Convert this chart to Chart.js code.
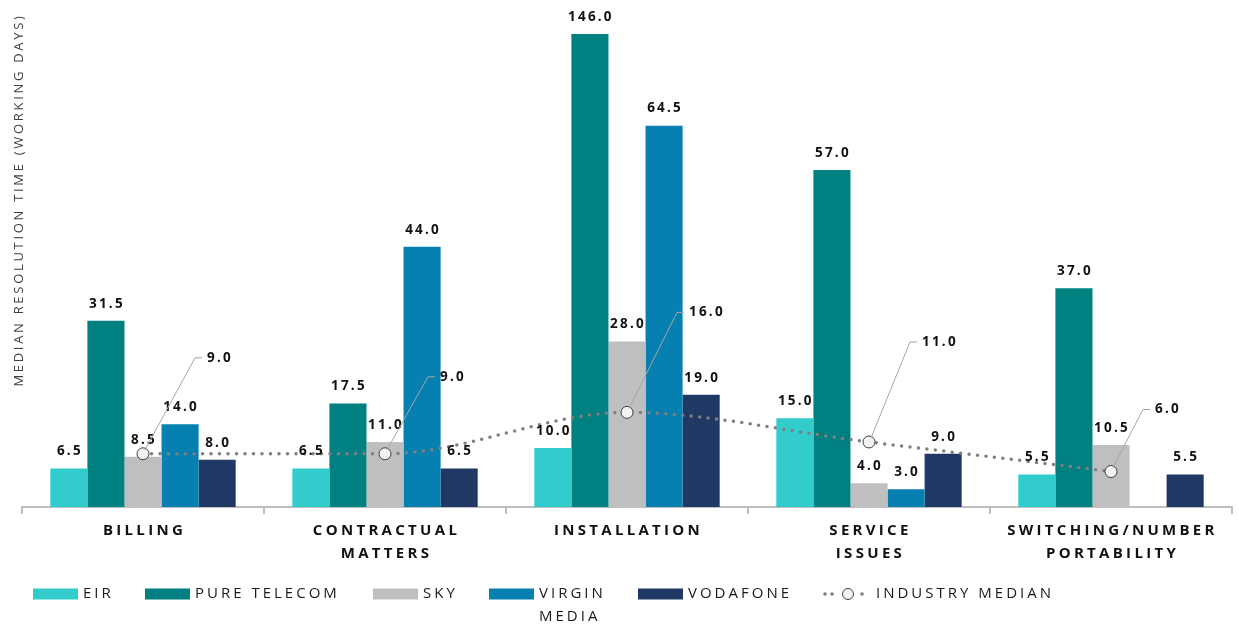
<!DOCTYPE html>
<html>
<head>
<meta charset="utf-8">
<script src="https://cdn.jsdelivr.net/npm/chart.js@4.4.1/dist/chart.umd.min.js"></script>
<style>
html, body { margin: 0; padding: 0; background: #fff; }
#wrap { width: 1239px; height: 628px; position: relative; }
</style>
</head>
<body>
<div id="wrap"><canvas id="chart"></canvas></div>
<script>
// categories and series
const categories = [["BILLING"], ["CONTRACTUAL", "MATTERS"], ["INSTALLATION"], ["SERVICE", "ISSUES"], ["SWITCHING/NUMBER", "PORTABILITY"]];
const eir = [6.5, 6.5, 10.0, 15.0, 5.5];
const pureTelecom = [31.5, 17.5, 146.0, 57.0, 37.0];
const sky = [8.5, 11.0, 28.0, 4.0, 10.5];
const virginMedia = [14.0, 44.0, 64.5, 3.0, null];
const vodafone = [8.0, 6.5, 19.0, 9.0, 5.5];
const industryMedian = [9.0, 9.0, 16.0, 11.0, 6.0];
const seriesNames = ["EIR", "PURE TELECOM", "SKY", ["VIRGIN", "MEDIA"], "VODAFONE", "INDUSTRY MEDIAN"];
const yTitle = "MEDIAN RESOLUTION TIME (WORKING DAYS)";

const colors = ["#33CCCC", "#008080", "#BFBFBF", "#0580B0", "#203864"];
// where the median callout elbows sit, relative to each point
const calloutOffsets = [[52, -96], [43, -77], [50, -100], [41, -100], [32, -62]];
const legendX = [33, 145, 373, 489, 638, 825];
const FONT = "'Open Sans', 'DejaVu Sans', sans-serif";

const barSets = [eir, pureTelecom, sky, virginMedia, vodafone].map((d, i) => ({
  type: "bar",
  label: typeof seriesNames[i] === "string" ? seriesNames[i] : seriesNames[i].join(" "),
  data: d,
  backgroundColor: colors[i],
  borderWidth: 0,
  categoryPercentage: 0.766,
  barPercentage: 1.0,
  order: 2
}));

const lineSet = {
  type: "line",
  label: "INDUSTRY MEDIAN",
  data: industryMedian,
  borderColor: "#7F7F7F",
  borderWidth: 3.5,
  borderDash: [0, 8.5],
  borderCapStyle: "round",
  cubicInterpolationMode: "monotone",
  pointRadius: 6,
  pointBackgroundColor: "#F2F2F2",
  pointBorderColor: "#404040",
  pointBorderWidth: 1,
  order: 0
};

const labelPlugin = {
  id: "labels",
  afterDatasetsDraw(chart) {
    const ctx = chart.ctx;
    const area = chart.chartArea;
    ctx.save();
    ctx.letterSpacing = "2.2px";
    ctx.font = "bold 13.5px " + FONT;
    ctx.fillStyle = "#111";
    ctx.textAlign = "center";
    ctx.textBaseline = "middle";
    for (let i = 0; i < 5; i++) {
      const meta = chart.getDatasetMeta(i);
      meta.data.forEach((el, j) => {
        const v = chart.data.datasets[i].data[j];
        if (v == null) return;
        const top = Math.max(el.y, area.top);
        ctx.fillText(v.toFixed(1), el.x + 1, top - 17);
      });
    }
    // median callouts
    const lm = chart.getDatasetMeta(5);
    lm.data.forEach((pt, j) => {
      const [dx, dy] = calloutOffsets[j];
      const ex = pt.x + dx, ey = pt.y + dy;
      ctx.strokeStyle = "#A6A6A6";
      ctx.lineWidth = 1;
      ctx.beginPath();
      ctx.moveTo(pt.x + 2, pt.y - 4);
      ctx.lineTo(ex, ey);
      ctx.lineTo(ex + 7, ey);
      ctx.stroke();
      ctx.textAlign = "left";
      ctx.fillText(industryMedian[j].toFixed(1), ex + 12, ey);
    });
    ctx.restore();
  },
  afterDraw(chart) {
    const ctx = chart.ctx;
    const xs = chart.scales.x;
    ctx.save();
    // category labels
    ctx.letterSpacing = "3.3px";
    ctx.font = "bold 15px " + FONT;
    ctx.fillStyle = "#111";
    ctx.textAlign = "center";
    ctx.textBaseline = "middle";
    categories.forEach((lines, i) => {
      const x = xs.getPixelForValue(i);
      lines.forEach((t, k) => ctx.fillText(t, x + 1.5, 531 + k * 23));
    });
    // y title
    ctx.save();
    ctx.translate(19, 200);
    ctx.rotate(-Math.PI / 2);
    ctx.letterSpacing = "2.7px";
    ctx.font = "13px " + FONT;
    ctx.fillStyle = "#404040";
    ctx.fillText(yTitle, 0, 0);
    ctx.restore();
    // legend
    ctx.letterSpacing = "3px";
    ctx.font = "15px " + FONT;
    ctx.textAlign = "left";
    const ly = 594;
    for (let i = 0; i < 5; i++) {
      const x = legendX[i];
      ctx.fillStyle = colors[i];
      ctx.fillRect(x, ly - 5.5, 45, 11);
      ctx.fillStyle = "#1a1a1a";
      const name = seriesNames[i];
      if (Array.isArray(name)) {
        ctx.fillText(name[0], x + 50, ly);
        ctx.fillText(name[1], x + 50, ly + 23);
      } else {
        ctx.fillText(name, x + 50, ly);
      }
    }
    const mx = legendX[5];
    ctx.fillStyle = "#7F7F7F";
    [mx, mx + 7, mx + 37].forEach(d => {
      ctx.beginPath();
      ctx.arc(d, ly, 1.8, 0, Math.PI * 2);
      ctx.fill();
    });
    ctx.beginPath();
    ctx.arc(mx + 23, ly, 5.5, 0, Math.PI * 2);
    ctx.fillStyle = "#F2F2F2";
    ctx.fill();
    ctx.strokeStyle = "#404040";
    ctx.lineWidth = 1;
    ctx.stroke();
    ctx.fillStyle = "#1a1a1a";
    ctx.fillText(seriesNames[5], mx + 51, ly);
    ctx.restore();
  }
};

new Chart(document.getElementById("chart"), {
  data: {
    labels: categories,
    datasets: [...barSets, lineSet]
  },
  options: {
    responsive: true,
    maintainAspectRatio: false,
    animation: false,
    layout: { padding: { left: 22, right: 0, top: 34, bottom: 114 } },
    plugins: {
      legend: { display: false },
      tooltip: { enabled: false }
    },
    scales: {
      x: {
        grid: { display: true, drawOnChartArea: false, drawTicks: true, tickLength: 7, color: "#BFBFBF", lineWidth: 2, offset: true },
        border: { display: true, color: "#BFBFBF", width: 2 },
        ticks: { display: false }
      },
      y: {
        display: false,
        min: 0,
        max: 80
      }
    }
  },
  plugins: [labelPlugin]
});
</script>
</body>
</html>
